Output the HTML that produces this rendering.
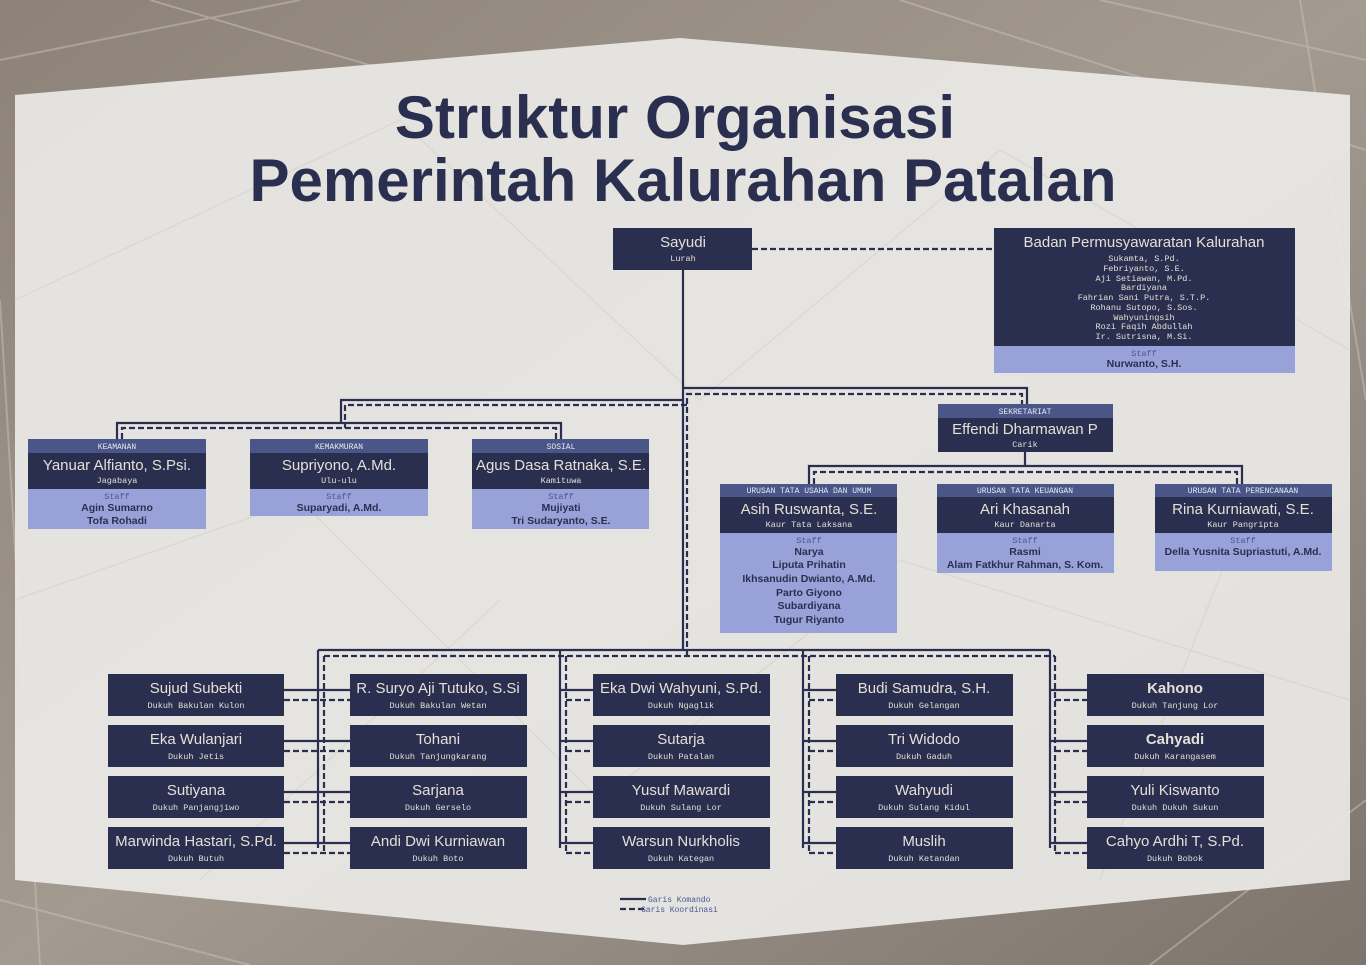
<!DOCTYPE html>
<html><head><meta charset="utf-8"><style>
html,body{margin:0;padding:0;width:1366px;height:965px;overflow:hidden;background:#938a80}
svg{display:block}
.n{font-family:"Liberation Sans",sans-serif;fill:#e4e0d6;text-anchor:middle}
.m{font-family:"Liberation Mono",monospace;fill:#e4e0d6;text-anchor:middle;font-size:8.5px}
.h{font-family:"Liberation Mono",monospace;fill:#e8e8f0;text-anchor:middle;font-size:8px}
.s{font-family:"Liberation Sans",sans-serif;fill:#2a2f50;text-anchor:middle;font-size:10.5px;font-weight:bold}
.st{font-family:"Liberation Mono",monospace;fill:#4a5694;text-anchor:middle;font-size:8.5px}
.bm{font-family:"Liberation Mono",monospace;fill:#e4e0d6;text-anchor:middle;font-size:8.5px}
</style></head><body>
<svg width="1366" height="965" viewBox="0 0 1366 965" xmlns="http://www.w3.org/2000/svg">
<defs><linearGradient id="bg" x1="0" y1="0" x2="1" y2="1"><stop offset="0" stop-color="#8c8278"/><stop offset="0.5" stop-color="#a39a90"/><stop offset="1" stop-color="#7d746c"/></linearGradient></defs>
<rect width="1366" height="965" fill="url(#bg)"/>
<g stroke="#c9c2b8" stroke-width="2" opacity="0.5" fill="none">
<path d="M0 60 L300 0 M150 0 L420 80 M900 0 L1366 150 M1100 0 L1366 60 M0 900 L250 965 M1150 965 L1366 800 M1300 0 L1366 400 M0 300 L40 965"/>
</g>
<polygon points="15,95 680,38 1350,95 1350,880 683,945 15,880" fill="#ebe9e6" opacity="0.93"/>
<g stroke="#d6d2cc" stroke-width="1.5" opacity="0.6" fill="none">
<path d="M15 300 L400 120 L700 400 L1000 150 L1350 350 M15 600 L300 500 L600 800 L900 560 L1350 700 M200 880 L500 600 M1100 880 L1250 500"/>
</g>
<text x="675" y="138" class="n" style="font-size:60px;font-weight:bold;fill:#2a2f50">Struktur Organisasi</text>
<text x="683" y="201" class="n" style="font-size:60px;font-weight:bold;fill:#2a2f50">Pemerintah Kalurahan Patalan</text>

<g fill="none" stroke="#2a2f50" stroke-width="2.2">
<path d="M683 270 V650"/>
<path d="M683 388 H1027 V404"/>
<path d="M683 400 H341 V423 M117 439 V423 H561 V439"/>
<path d="M1025 452 V466 M809 484 V466 H1242 V484"/>
<path d="M318 650 H1050 M318 650 V848 M560 650 V848 M803 650 V848 M1050 650 V848"/>
<path d="M284 690 H350 M284 741 H350 M284 792 H350 M284 843 H350"/>
<path d="M560 690 H593 M560 741 H593 M560 792 H593 M560 843 H593"/>
<path d="M803 690 H836 M803 741 H836 M803 792 H836 M803 843 H836"/>
<path d="M1050 690 H1087 M1050 741 H1087 M1050 792 H1087 M1050 843 H1087"/>
<path d="M620 899 H646"/>
</g>
<g fill="none" stroke="#2a2f50" stroke-width="2.2" stroke-dasharray="6,3">
<path d="M752 249 H994"/>
<path d="M687 656 V394 H1022 V404"/>
<path d="M687 405 H345 V428 M122 439 V428 H556 V439"/>
<path d="M814 484 V472 H1237 V484"/>
<path d="M324 656 H1055 M324 656 V853 M566 656 V853 M809 656 V853 M1055 656 V853"/>
<path d="M284 700 H350 M284 751 H350 M284 802 H350 M284 853 H350"/>
<path d="M566 700 H593 M566 751 H593 M566 802 H593 M566 853 H593"/>
<path d="M809 700 H836 M809 751 H836 M809 802 H836 M809 853 H836"/>
<path d="M1055 700 H1087 M1055 751 H1087 M1055 802 H1087 M1055 853 H1087"/>
<path d="M620 909 H646"/>
</g>
<text x="648" y="902" style="font-family:'Liberation Mono',monospace;font-size:8px;fill:#4a5694">Garis Komando</text>
<text x="641" y="912" style="font-family:'Liberation Mono',monospace;font-size:8px;fill:#4a5694">Garis Koordinasi</text>

<rect x="613" y="228" width="139" height="42" fill="#2a2f50"/>
<text x="683" y="247" class="n" style="font-size:15px">Sayudi</text>
<text x="683" y="261" class="m">Lurah</text>

<rect x="994" y="228" width="301" height="118" fill="#2a2f50"/>
<rect x="994" y="346" width="301" height="27" fill="#98a2d8"/>
<text x="1144" y="247" class="n" style="font-size:15px">Badan Permusyawaratan Kalurahan</text>
<text x="1144" y="261" class="bm">Sukamta, S.Pd.</text><text x="1144" y="271" class="bm">Febriyanto, S.E.</text><text x="1144" y="281" class="bm">Aji Setiawan, M.Pd.</text><text x="1144" y="290" class="bm">Bardiyana</text><text x="1144" y="300" class="bm">Fahrian Sani Putra, S.T.P.</text><text x="1144" y="310" class="bm">Rohanu Sutopo, S.Sos.</text><text x="1144" y="320" class="bm">Wahyuningsih</text><text x="1144" y="329" class="bm">Rozi Faqih Abdullah</text><text x="1144" y="339" class="bm">Ir. Sutrisna, M.Si.</text>
<text x="1144" y="356" class="st">Staff</text>
<text x="1144" y="367" class="s">Nurwanto, S.H.</text>

<rect x="938" y="404" width="175" height="14" fill="#4a5688"/>
<rect x="938" y="418" width="175" height="34" fill="#2a2f50"/>
<text x="1025" y="414" class="h">SEKRETARIAT</text>
<text x="1025" y="434" class="n" style="font-size:15px">Effendi Dharmawan P</text>
<text x="1025" y="447" class="m">Carik</text>

<rect x="28" y="439" width="178" height="14" fill="#4a5688"/><rect x="28" y="453" width="178" height="36" fill="#2a2f50"/><rect x="28" y="489" width="178" height="40" fill="#98a2d8"/>
<text x="117" y="449" class="h">KEAMANAN</text><text x="117" y="470" class="n" style="font-size:15px">Yanuar Alfianto, S.Psi.</text><text x="117" y="483" class="m">Jagabaya</text>
<text x="117" y="499" class="st">Staff</text><text x="117" y="511" class="s">Agin Sumarno</text><text x="117" y="524" class="s">Tofa Rohadi</text>

<rect x="250" y="439" width="178" height="14" fill="#4a5688"/><rect x="250" y="453" width="178" height="36" fill="#2a2f50"/><rect x="250" y="489" width="178" height="27" fill="#98a2d8"/>
<text x="339" y="449" class="h">KEMAKMURAN</text><text x="339" y="470" class="n" style="font-size:15px">Supriyono, A.Md.</text><text x="339" y="483" class="m">Ulu-ulu</text>
<text x="339" y="499" class="st">Staff</text><text x="339" y="511" class="s">Suparyadi, A.Md.</text>

<rect x="472" y="439" width="177" height="14" fill="#4a5688"/><rect x="472" y="453" width="177" height="36" fill="#2a2f50"/><rect x="472" y="489" width="177" height="40" fill="#98a2d8"/>
<text x="561" y="449" class="h">SOSIAL</text><text x="561" y="470" class="n" style="font-size:15px">Agus Dasa Ratnaka, S.E.</text><text x="561" y="483" class="m">Kamituwa</text>
<text x="561" y="499" class="st">Staff</text><text x="561" y="511" class="s">Mujiyati</text><text x="561" y="524" class="s">Tri Sudaryanto, S.E.</text>

<rect x="720" y="484" width="177" height="13" fill="#4a5688"/><rect x="720" y="497" width="177" height="36" fill="#2a2f50"/><rect x="720" y="533" width="177" height="100" fill="#98a2d8"/>
<text x="809" y="493" class="h">URUSAN TATA USAHA DAN UMUM</text><text x="809" y="514" class="n" style="font-size:15px">Asih Ruswanta, S.E.</text><text x="809" y="527" class="m">Kaur Tata Laksana</text>
<text x="809" y="543" class="st">Staff</text><text x="809" y="555" class="s">Narya</text><text x="809" y="568" class="s">Liputa Prihatin</text><text x="809" y="582" class="s">Ikhsanudin Dwianto, A.Md.</text><text x="809" y="596" class="s">Parto Giyono</text><text x="809" y="609" class="s">Subardiyana</text><text x="809" y="623" class="s">Tugur Riyanto</text>

<rect x="937" y="484" width="177" height="13" fill="#4a5688"/><rect x="937" y="497" width="177" height="36" fill="#2a2f50"/><rect x="937" y="533" width="177" height="40" fill="#98a2d8"/>
<text x="1025" y="493" class="h">URUSAN TATA KEUANGAN</text><text x="1025" y="514" class="n" style="font-size:15px">Ari Khasanah</text><text x="1025" y="527" class="m">Kaur Danarta</text>
<text x="1025" y="543" class="st">Staff</text><text x="1025" y="555" class="s">Rasmi</text><text x="1025" y="568" class="s">Alam Fatkhur Rahman, S. Kom.</text>

<rect x="1155" y="484" width="177" height="13" fill="#4a5688"/><rect x="1155" y="497" width="177" height="36" fill="#2a2f50"/><rect x="1155" y="533" width="177" height="38" fill="#98a2d8"/>
<text x="1243" y="493" class="h">URUSAN TATA PERENCANAAN</text><text x="1243" y="514" class="n" style="font-size:15px">Rina Kurniawati, S.E.</text><text x="1243" y="527" class="m">Kaur Pangripta</text>
<text x="1243" y="543" class="st">Staff</text><text x="1243" y="555" class="s">Della Yusnita Supriastuti, A.Md.</text>

<g fill="#2a2f50">
<rect x="108" y="674" width="176" height="42"/><rect x="108" y="725" width="176" height="42"/><rect x="108" y="776" width="176" height="42"/><rect x="108" y="827" width="176" height="42"/>
<rect x="350" y="674" width="177" height="42"/><rect x="350" y="725" width="177" height="42"/><rect x="350" y="776" width="177" height="42"/><rect x="350" y="827" width="177" height="42"/>
<rect x="593" y="674" width="177" height="42"/><rect x="593" y="725" width="177" height="42"/><rect x="593" y="776" width="177" height="42"/><rect x="593" y="827" width="177" height="42"/>
<rect x="836" y="674" width="177" height="42"/><rect x="836" y="725" width="177" height="42"/><rect x="836" y="776" width="177" height="42"/><rect x="836" y="827" width="177" height="42"/>
<rect x="1087" y="674" width="177" height="42"/><rect x="1087" y="725" width="177" height="42"/><rect x="1087" y="776" width="177" height="42"/><rect x="1087" y="827" width="177" height="42"/>
</g>
<text x="196" y="693" class="n" style="font-size:15px">Sujud Subekti</text><text x="196" y="708" class="m">Dukuh Bakulan Kulon</text>
<text x="196" y="744" class="n" style="font-size:15px">Eka Wulanjari</text><text x="196" y="759" class="m">Dukuh Jetis</text>
<text x="196" y="795" class="n" style="font-size:15px">Sutiyana</text><text x="196" y="810" class="m">Dukuh Panjangjiwo</text>
<text x="196" y="846" class="n" style="font-size:15px">Marwinda Hastari, S.Pd.</text><text x="196" y="861" class="m">Dukuh Butuh</text>

<text x="438" y="693" class="n" style="font-size:15px">R. Suryo Aji Tutuko, S.Si</text><text x="438" y="708" class="m">Dukuh Bakulan Wetan</text>
<text x="438" y="744" class="n" style="font-size:15px">Tohani</text><text x="438" y="759" class="m">Dukuh Tanjungkarang</text>
<text x="438" y="795" class="n" style="font-size:15px">Sarjana</text><text x="438" y="810" class="m">Dukuh Gerselo</text>
<text x="438" y="846" class="n" style="font-size:15px">Andi Dwi Kurniawan</text><text x="438" y="861" class="m">Dukuh Boto</text>

<text x="681" y="693" class="n" style="font-size:15px">Eka Dwi Wahyuni, S.Pd.</text><text x="681" y="708" class="m">Dukuh Ngaglik</text>
<text x="681" y="744" class="n" style="font-size:15px">Sutarja</text><text x="681" y="759" class="m">Dukuh Patalan</text>
<text x="681" y="795" class="n" style="font-size:15px">Yusuf Mawardi</text><text x="681" y="810" class="m">Dukuh Sulang Lor</text>
<text x="681" y="846" class="n" style="font-size:15px">Warsun Nurkholis</text><text x="681" y="861" class="m">Dukuh Kategan</text>

<text x="924" y="693" class="n" style="font-size:15px">Budi Samudra, S.H.</text><text x="924" y="708" class="m">Dukuh Gelangan</text>
<text x="924" y="744" class="n" style="font-size:15px">Tri Widodo</text><text x="924" y="759" class="m">Dukuh Gaduh</text>
<text x="924" y="795" class="n" style="font-size:15px">Wahyudi</text><text x="924" y="810" class="m">Dukuh Sulang Kidul</text>
<text x="924" y="846" class="n" style="font-size:15px">Muslih</text><text x="924" y="861" class="m">Dukuh Ketandan</text>

<text x="1175" y="693" class="n" style="font-size:15px;font-weight:bold">Kahono</text><text x="1175" y="708" class="m">Dukuh Tanjung Lor</text>
<text x="1175" y="744" class="n" style="font-size:15px;font-weight:bold">Cahyadi</text><text x="1175" y="759" class="m">Dukuh Karangasem</text>
<text x="1175" y="795" class="n" style="font-size:15px">Yuli Kiswanto</text><text x="1175" y="810" class="m">Dukuh Dukuh Sukun</text>
<text x="1175" y="846" class="n" style="font-size:15px">Cahyo Ardhi T, S.Pd.</text><text x="1175" y="861" class="m">Dukuh Bobok</text>
</svg>
</body></html>
